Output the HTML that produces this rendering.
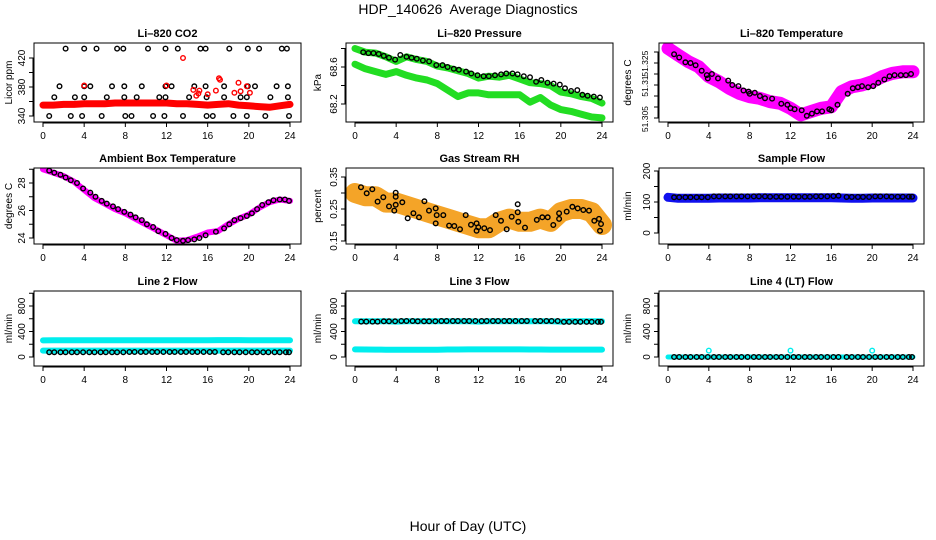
<!DOCTYPE html>
<html><head><meta charset="utf-8"><style>
html,body{margin:0;padding:0;background:#fff;}
svg{display:block;font-family:"Liberation Sans",sans-serif;}
</style></head><body>
<svg id="chart" width="936" height="540" viewBox="0 0 936 540">
<text x="468" y="14" text-anchor="middle" font-size="14">HDP_140626&#160; Average Diagnostics</text>
<text x="468" y="531" text-anchor="middle" font-size="14">Hour of Day (UTC)</text>
</svg>
<script>
// ---- data ----
const bandHours = [0,1,2,3,4,5,6,7,8,9,10,11,12,13,14,15,16,17,18,19,20,21,22,23,24];
const xTicks = [0,4,8,12,16,20,24];

const co2Band = [355,355,356,356,357,357,357,358,358,358,358,358,358,357,357,356,355,356,357,355,354,353,352,354,356];
const co2Hours = [2.2,4.0,5.2,7.2,7.8,10.2,11.9,13.1,15.3,15.8,18.1,19.9,21.0,23.2,23.7,
  1.6,4.0,4.6,6.7,7.9,9.6,11.9,12.5,14.7,15.8,17.6,19.9,20.6,22.7,23.8,
  1.1,3.1,4.0,6.2,7.9,9.1,11.3,11.9,14.2,15.9,17.6,19.2,19.8,22.1,23.8,
  0.6,2.7,3.8,5.7,8.0,8.6,10.7,11.8,13.6,15.9,16.5,18.5,19.8,21.6,23.9];
const co2Vals = [433,433,433,433,433,433,433,433,433,433,433,433,433,433,433,
  381,381,381,381,381,381,381,381,381,381,381,381,381,381,381,
  366,366,366,366,366,366,366,366,366,366,366,366,366,366,366,
  340,340,340,340,340,340,340,340,340,340,340,340,340,340,340];
const co2RedHours = [13.6,15.2,14.9,17.1,17.2,16.8,19.0,19.2,19.8,20.1,16.0,15.1,12.0,4.0,18.6,14.6];
const co2RedVals = [420,375,368,392,390,375,386,374,381,372,370,371,382,382,372,376];

const presUpper = [68.80,68.76,68.75,68.71,68.66,68.71,68.68,68.66,68.61,68.59,68.56,68.53,68.48,68.50,68.49,68.51,68.47,68.43,68.42,68.40,68.33,68.31,68.28,68.26,68.21];
const presLower = [68.63,68.58,68.55,68.52,68.55,68.51,68.48,68.46,68.42,68.35,68.28,68.32,68.32,68.30,68.30,68.30,68.30,68.22,68.27,68.19,68.14,68.12,68.09,68.06,68.05];
const presHours = [0.8,1.3,1.8,2.3,2.8,3.3,3.9,4.4,5.0,5.5,6.0,6.6,7.2,7.9,8.5,9.0,9.6,10.1,10.8,11.3,11.9,12.5,13.0,13.6,14.2,14.7,15.3,15.8,16.4,17.0,17.6,18.1,18.7,19.3,19.9,20.4,21.0,21.6,22.1,22.6,23.2,23.8];
const presVals = [68.76,68.75,68.75,68.74,68.72,68.70,68.68,68.73,68.71,68.70,68.69,68.67,68.66,68.62,68.62,68.60,68.58,68.57,68.55,68.53,68.51,68.50,68.50,68.51,68.52,68.53,68.53,68.52,68.50,68.49,68.44,68.46,68.43,68.42,68.41,68.37,68.34,68.35,68.30,68.29,68.28,68.27];

const tempBand = [51.3367,51.3336,51.3306,51.3283,51.3238,51.3215,51.3185,51.3162,51.3147,51.3139,51.3124,51.3117,51.3094,51.3064,51.3079,51.3094,51.3101,51.3170,51.3192,51.3200,51.3215,51.3238,51.3253,51.3260,51.3260];
const tempHours = [0.6,1.1,1.7,2.2,2.7,3.3,3.8,3.9,4.3,4.9,5.9,6.3,6.9,7.4,7.9,8.0,8.5,9.0,9.5,10.2,11.1,11.7,12.0,12.4,13.1,13.6,14.1,14.6,15.1,15.8,16.0,16.6,17.6,18.1,18.6,19.0,19.6,20.1,20.6,21.2,21.7,22.2,22.8,23.3,23.8];
const tempVals = [51.3340,51.3325,51.3303,51.3300,51.3290,51.3265,51.3245,51.3230,51.3250,51.3230,51.3220,51.3200,51.3195,51.3175,51.3170,51.3160,51.3165,51.3150,51.3140,51.3138,51.3115,51.3110,51.3095,51.3090,51.3085,51.3060,51.3070,51.3080,51.3080,51.3090,51.3085,51.3110,51.3160,51.3185,51.3190,51.3195,51.3190,51.3195,51.3210,51.3225,51.3240,51.3245,51.3245,51.3245,51.3250];

const ambBand = [29.0,28.75,28.5,28.1,27.5,26.9,26.5,26.1,25.8,25.4,25.0,24.6,24.2,23.8,23.85,24.1,24.4,24.5,25.0,25.4,25.7,26.2,26.6,26.8,26.7];
const ambHours = [0.6,1.1,1.7,2.2,2.7,3.3,3.9,4.6,5.1,5.7,6.2,6.8,7.3,7.9,8.5,9.0,9.6,10.1,10.7,11.2,11.9,12.5,13.0,13.6,14.1,14.7,15.2,15.8,16.8,17.6,18.1,18.6,19.2,19.8,20.3,20.8,21.3,21.9,22.4,23.0,23.5,23.9];
const ambVals = [28.9,28.75,28.6,28.4,28.2,28.0,27.6,27.3,27.0,26.7,26.5,26.3,26.1,25.9,25.7,25.5,25.3,25.0,24.8,24.5,24.3,24.0,23.85,23.8,23.85,23.9,24.0,24.2,24.45,24.7,25.0,25.3,25.45,25.6,25.8,26.1,26.4,26.6,26.75,26.8,26.8,26.7];

const rhBand = [0.30,0.29,0.29,0.27,0.27,0.26,0.25,0.24,0.23,0.22,0.21,0.20,0.19,0.19,0.21,0.22,0.21,0.21,0.22,0.21,0.24,0.25,0.25,0.24,0.20];
const rhHours = [0.58,1.14,1.68,2.20,2.75,3.30,3.82,3.95,3.95,3.95,4.60,5.12,5.67,6.22,6.74,7.19,7.84,7.84,7.94,8.58,9.14,9.65,10.2,10.76,11.27,11.82,11.82,11.98,12.56,13.12,13.67,14.19,14.74,15.23,15.81,15.81,15.87,16.52,17.66,18.20,18.72,19.27,19.83,19.83,20.57,21.12,21.64,22.18,22.74,23.25,23.71,23.81,23.90];
const rhVals = [0.318,0.299,0.312,0.273,0.287,0.258,0.245,0.301,0.288,0.263,0.271,0.221,0.237,0.224,0.274,0.245,0.252,0.205,0.231,0.231,0.198,0.197,0.187,0.231,0.201,0.205,0.182,0.193,0.190,0.184,0.231,0.213,0.187,0.226,0.265,0.240,0.210,0.192,0.216,0.224,0.224,0.200,0.237,0.219,0.242,0.257,0.252,0.247,0.245,0.213,0.219,0.182,0.203];

const flowHours = [0.6,1.1,1.7,2.2,2.8,3.3,3.9,4.5,5.0,5.6,6.1,6.7,7.2,7.8,8.4,8.9,9.5,10.0,10.6,11.1,11.7,12.3,12.8,13.4,13.9,14.5,15.0,15.6,16.2,16.7,17.5,18.0,18.6,19.1,19.7,20.3,20.8,21.4,21.9,22.5,23.0,23.6,23.9];
const sampleBand = [115,112,112,112,112,113,113,113,113,114,114,114,114,114,114,114,114,113,112,112,113,113,113,113,113];
const sampleVals = [115,115,115,115,115,115,115,118,118,118,118,118,118,118,118,118,118,117,117,117,117,117,117,117,117,118,118,118,119,120,116,116,116,116,116,118,118,118,117,117,117,117,117];
const line2Upper = [260,262,262,262,262,262,262,262,262,262,262,262,262,262,262,262,262,265,265,265,262,262,262,262,262];
const line2Lower = [100,100,100,100,100,100,100,100,100,100,100,100,100,100,100,100,100,100,100,100,100,100,100,100,100];
const line2Vals = [75,75,75,75,75,75,75,75,75,75,75,75,75,75,78,78,78,78,78,78,78,78,78,78,78,78,78,78,78,78,75,75,75,75,75,75,75,75,75,75,75,75,75];
const line3Upper = [560,560,560,560,555,560,560,560,560,560,560,560,555,560,560,560,560,560,560,560,555,560,560,560,560];
const line3Lower = [120,118,116,115,115,115,115,115,115,117,118,119,120,120,120,120,120,118,117,116,116,116,116,116,116];
const line3Vals = [555,555,555,555,560,560,560,565,565,565,560,560,560,560,565,565,565,565,565,565,565,565,565,565,565,565,565,565,565,565,565,565,565,565,565,550,550,550,550,550,550,550,550];
const line4Band = [0,0,0,0,0,0,0,0,0,0,0,0,0,0,0,0,0,0,0,0,0,0,0,0,0];
const line4Vals = [0,0,0,0,0,0,0,0,0,0,0,0,0,0,0,0,0,0,0,0,0,0,0,0,0,0,0,0,0,0,0,0,0,0,0,0,0,0,0,0,0,0,0];
const line4BlipHours = [4.0,12.0,20.0];
const line4BlipVals = [100,100,100];

// ---- drawing ----
const NS = 'http://www.w3.org/2000/svg';
const svg = document.getElementById('chart');
function mk(tag, attrs, parent){
  const e = document.createElementNS(NS, tag);
  for (const k in attrs) e.setAttribute(k, attrs[k]);
  (parent||svg).appendChild(e);
  return e;
}
const cols = [{l:34,r:301,x0:43,x24:290,yt:12},{l:346,r:613,x0:355,x24:602,yt:321},{l:659,r:924,x0:668,x24:913,yt:631}];
const rows = [{t:43,b:122},{t:168,b:244},{t:291,b:366}];

function panel(cfg){
  const c = cols[cfg.col], rw = rows[cfg.row];
  const g = mk('g', {});
  
  
  const X = h => c.x0 + (h/24)*(c.x24 - c.x0);
  const Y = v => cfg.y1 + (v - cfg.v1)*(cfg.y2 - cfg.y1)/(cfg.v2 - cfg.v1);
  const clipId = 'clip-' + cfg.name;
  const cp = mk('clipPath', {id: clipId}, g);
  mk('rect', {x:c.l, y:rw.t, width:c.r-c.l, height:rw.b-rw.t}, cp);
  const plot = mk('g', {'clip-path':'url(#'+clipId+')'}, g);
  (cfg.bands||[]).forEach(b => {
    const pts = b.hours.map((h,i)=>X(h).toFixed(1)+','+Y(b.vals[i]).toFixed(1)).join(' ');
    const pl = mk('polyline', {points:pts, fill:'none', stroke:b.color, 'stroke-width':b.w, 'stroke-linejoin':'round', 'stroke-linecap':'round'}, plot);
    
    
  });
  (cfg.pts||[]).forEach(p => {
    p.hours.forEach((h,i) => {
      const ci = mk('circle', {cx:X(h).toFixed(1), cy:Y(p.vals[i]).toFixed(1), r:p.r||2.3, fill:'none', stroke:p.color, 'stroke-width':p.sw||1.4}, plot);
      
      
    });
  });
  const box = mk('rect', {x:c.l, y:rw.t, width:c.r-c.l, height:rw.b-rw.t, fill:'none', stroke:'#000', 'stroke-width':1}, g);
  
  
  const t = mk('text', {x:(c.l+c.r)/2, y:rw.t-6, 'text-anchor':'middle', 'font-size':11, 'font-weight':'bold'}, g);
  t.textContent = cfg.title;
  
  
  mk('line', {x1:X(0), x2:X(24), y1:rw.b+1, y2:rw.b+1, stroke:'#000'}, g);
  xTicks.forEach(h => {
    mk('line', {x1:X(h), x2:X(h), y1:rw.b, y2:rw.b+5, stroke:'#000'}, g);
    const tl = mk('text', {x:X(h), y:rw.b+17, 'text-anchor':'middle', 'font-size':10}, g);
    tl.textContent = h;
    
    
  });
  const yt = cfg.ticks;
  mk('line', {x1:c.l-1, x2:c.l-1, y1:Y(yt[0]), y2:Y(yt[yt.length-1]), stroke:'#000'}, g);
  yt.forEach(v => mk('line', {x1:c.l-5, x2:c.l, y1:Y(v), y2:Y(v), stroke:'#000'}, g));
  const lfs = cfg.labelSize || 10;
  const lx = c.l - (cfg.labelOff || 9);
  cfg.labelVals.forEach((v,i) => {
    const yy = Y(v);
    const tl = mk('text', {x:lx, y:yy, 'text-anchor':'middle', 'font-size':lfs, transform:'rotate(-90 '+lx+' '+yy+')'}, g);
    tl.textContent = cfg.labels[i];
    
    
  });
  const yc = (rw.t+rw.b)/2;
  const yl = mk('text', {x:c.yt, y:yc, 'text-anchor':'middle', 'font-size':10, transform:'rotate(-90 '+c.yt+' '+yc+')'}, g);
  yl.textContent = cfg.ylab;
  
  
}

panel({name:'co2-panel', title:'Li\u2013820 CO2', col:0, row:0, v1:340, y1:116, v2:420, y2:58,
  ticks:[340,360,380,400,420], labelVals:[340,380,420], labels:['340','380','420'], ylab:'Licor ppm',
  bands:[{name:'co2-band', hours:bandHours, vals:co2Band, color:'#ff0000', w:7}],
  pts:[{name:'co2-point', hours:co2Hours, vals:co2Vals, color:'#000'},
       {name:'co2-outlier', hours:co2RedHours, vals:co2RedVals, color:'#ff0000'}]});
panel({name:'pressure-panel', title:'Li\u2013820 Pressure', col:1, row:0, v1:68.2, y1:104, v2:68.6, y2:67,
  ticks:[68.2,68.4,68.6,68.8], labelVals:[68.2,68.6], labels:['68.2','68.6'], ylab:'kPa',
  bands:[{name:'pressure-band-upper', hours:bandHours, vals:presUpper, color:'#22dd22', w:7},
         {name:'pressure-band-lower', hours:bandHours, vals:presLower, color:'#22dd22', w:7}],
  pts:[{name:'pressure-point', hours:presHours, vals:presVals, color:'#000'}]});
panel({name:'temperature-panel', title:'Li\u2013820 Temperature', col:2, row:0, v1:51.305, y1:118, v2:51.325, y2:74,
  ticks:[51.305,51.31,51.315,51.32,51.325,51.33,51.335], labelVals:[51.3045,51.3195,51.3297], labels:['51.305','51.31','51.325'], ylab:'degrees C',
  labelSize:8.5, labelOff:11,
  bands:[{name:'temperature-band', hours:bandHours, vals:tempBand, color:'#ff00ff', w:13}],
  pts:[{name:'temperature-point', hours:tempHours, vals:tempVals, color:'#000'}]});
panel({name:'ambient-panel', title:'Ambient Box Temperature', col:0, row:1, v1:24, y1:238, v2:28, y2:183,
  ticks:[24,25,26,27,28,29], labelVals:[24,26,28], labels:['24','26','28'], ylab:'degrees C',
  bands:[{name:'ambient-band', hours:bandHours, vals:ambBand, color:'#ff00ff', w:6}],
  pts:[{name:'ambient-point', hours:ambHours, vals:ambVals, color:'#000'}]});
panel({name:'rh-panel', title:'Gas Stream RH', col:1, row:1, v1:0.15, y1:241, v2:0.35, y2:177,
  ticks:[0.15,0.2,0.25,0.3,0.35], labelVals:[0.15,0.25,0.35], labels:['0.15','0.25','0.35'], ylab:'percent',
  bands:[{name:'rh-band', hours:bandHours, vals:rhBand, color:'#f4a428', w:20}],
  pts:[{name:'rh-point', hours:rhHours, vals:rhVals, color:'#000'}]});
panel({name:'sample-flow-panel', title:'Sample Flow', col:2, row:1, v1:0, y1:233, v2:200, y2:171,
  ticks:[0,50,100,150,200], labelVals:[0,100,200], labels:['0','100','200'], ylab:'ml/min',
  bands:[{name:'sample-flow-band', hours:bandHours, vals:sampleBand, color:'#1010ee', w:9}],
  pts:[{name:'sample-flow-point', hours:flowHours, vals:sampleVals, color:'#000'}]});
panel({name:'line2-panel', title:'Line 2 Flow', col:0, row:2, v1:0, y1:357, v2:800, y2:306,
  ticks:[0,200,400,600,800,1000], labelVals:[0,400,800], labels:['0','400','800'], ylab:'ml/min',
  bands:[{name:'line2-band-upper', hours:bandHours, vals:line2Upper, color:'#00eeee', w:6},
         {name:'line2-band-lower', hours:bandHours, vals:line2Lower, color:'#00eeee', w:6}],
  pts:[{name:'line2-point', hours:flowHours, vals:line2Vals, color:'#000'}]});
panel({name:'line3-panel', title:'Line 3 Flow', col:1, row:2, v1:0, y1:357, v2:800, y2:306,
  ticks:[0,200,400,600,800,1000], labelVals:[0,400,800], labels:['0','400','800'], ylab:'ml/min',
  bands:[{name:'line3-band-upper', hours:bandHours, vals:line3Upper, color:'#00eeee', w:6},
         {name:'line3-band-lower', hours:bandHours, vals:line3Lower, color:'#00eeee', w:6}],
  pts:[{name:'line3-point', hours:flowHours, vals:line3Vals, color:'#000'}]});
panel({name:'line4-panel', title:'Line 4 (LT) Flow', col:2, row:2, v1:0, y1:357, v2:800, y2:306,
  ticks:[0,200,400,600,800,1000], labelVals:[0,400,800], labels:['0','400','800'], ylab:'ml/min',
  bands:[{name:'line4-band', hours:bandHours, vals:line4Band, color:'#00eeee', w:5}],
  pts:[{name:'line4-point', hours:flowHours, vals:line4Vals, color:'#000'},
       {name:'line4-blip', hours:line4BlipHours, vals:line4BlipVals, color:'#00eeee'}]});
</script>
</body></html>
